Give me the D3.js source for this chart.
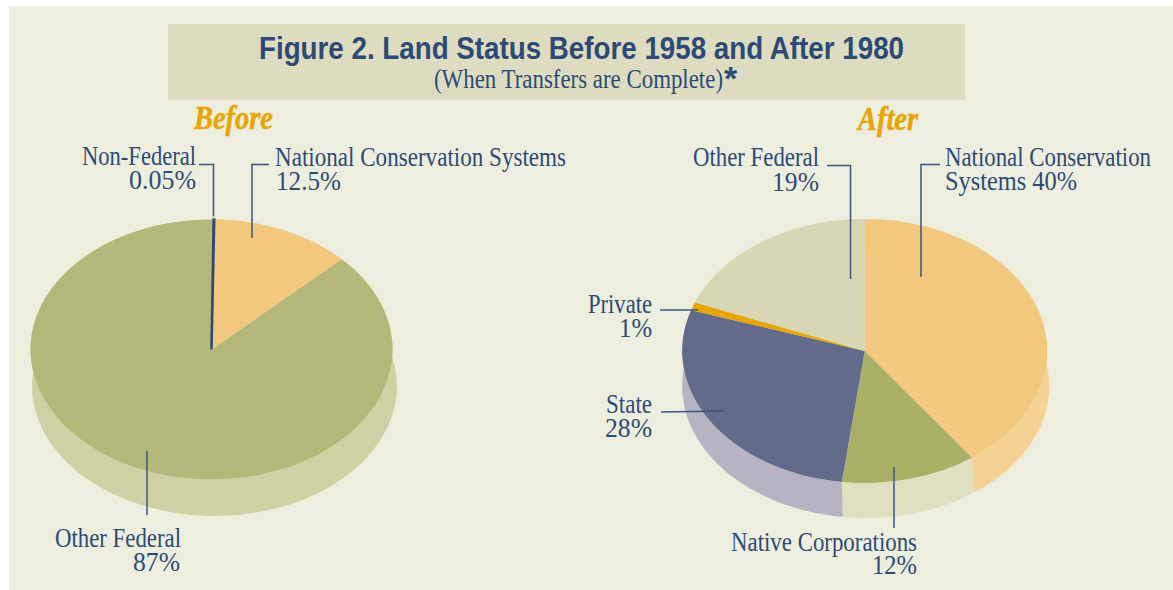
<!DOCTYPE html>
<html>
<head>
<meta charset="UTF-8">
<title>Land Status</title>
<style>
body { margin: 0; background: #fff; }
svg { display: block; }
.lbl { font-family: "Liberation Serif", serif; font-size: 27px; fill: #2c4a75; }
.leader { fill: none; stroke: #3a5680; stroke-width: 1.5px; }
</style>
</head>
<body>
<script src="https://cdn.jsdelivr.net/npm/d3@7"></script>
<script>

// values
var beforeCats = ["Non-Federal", "National Conservation Systems", "Other Federal"];
var beforeVals = [0.05, 12.5, 87];
var beforeTop = ["#2c4a75", "#f2c87f", "#b3b878"];
var beforeSide = ["#cfd1a4", "#cfd1a4", "#cfd1a4"];

var afterCats = ["National Conservation Systems", "Native Corporations", "State", "Private", "Other Federal"];
var afterVals = [40, 12, 28, 1, 19];
var afterTop = ["#f2c87f", "#aaaf68", "#636b8a", "#e6a500", "#d7d8b3"];
var afterSide = ["#f4d294", "#dfdfc2", "#b7b3c3", "#b7b3c3", "#d7d8b3"];

var titleText = "Figure 2. Land Status Before 1958 and After 1980";
var subText = "(When Transfers are Complete)";

var width = 1173, height = 590;

var svg = d3.select("body").append("svg")
    .attr("width", width)
    .attr("height", height);

svg.append("rect")
    .attr("x", 9).attr("y", 6)
    .attr("width", width - 9).attr("height", 584)
    .attr("fill", "#eeeedf");

svg.append("rect")
    .attr("x", 168).attr("y", 24)
    .attr("width", 797).attr("height", 76)
    .attr("fill", "#dddcc0");

svg.append("text")
    .attr("x", 259).attr("y", 59)
    .attr("textLength", 645)
    .attr("lengthAdjust", "spacingAndGlyphs")
    .style("font-family", "'Liberation Sans Narrow', 'Liberation Sans', sans-serif")
    .style("font-weight", "bold")
    .style("font-size", "32px")
    .style("fill", "#2c4a75")
    .text(titleText);

svg.append("text")
    .attr("x", 434).attr("y", 88)
    .attr("textLength", 289)
    .attr("lengthAdjust", "spacingAndGlyphs")
    .style("font-family", "'Liberation Serif', serif")
    .style("font-size", "27px")
    .style("fill", "#2c4a75")
    .text(subText);

svg.append("text")
    .attr("x", 724).attr("y", 90)
    .style("font-family", "'Liberation Sans', sans-serif")
    .style("font-weight", "bold")
    .style("font-size", "34px")
    .style("fill", "#2c4a75")
    .text("*");

function heading(s, x, y, w) {
  svg.append("text")
      .attr("x", x).attr("y", y)
      .attr("textLength", w)
      .attr("lengthAdjust", "spacingAndGlyphs")
      .style("font-family", "'Liberation Serif', serif")
      .style("font-weight", "bold")
      .style("font-style", "italic")
      .style("font-size", "33px")
      .style("fill", "#e6a500")
      .style("stroke", "#e6a500")
      .style("stroke-width", "0.5px")
      .text(s);
}
heading("Before", 194, 129, 79);
heading("After", 858, 130, 60);

var pie = d3.pie().sort(null).value(function(d) { return d; });
var arc = d3.arc().innerRadius(0);
var line = d3.line();

// top face of a pie, a circle pie squashed to an ellipse
function face(arcs, colors, e) {
  var g = svg.append("g")
      .attr("transform", "translate(" + e.cx + "," + e.cy + ") scale(1," + (e.ry / e.rx) + ")");
  g.selectAll("path")
      .data(arcs)
    .enter().append("path")
      .attr("d", function(d) { return arc.outerRadius(e.rx)(d); })
      .attr("fill", function(d, i) { return colors[i]; });
  return g;
}

function onEllipse(e, a) {
  return [e.cx + e.rx * Math.sin(a), e.cy - e.ry * Math.cos(a)];
}

// side wall of a pie, the band between the top ellipse and the lower one
function wall(arcs, colors, top, low) {
  svg.append("g").selectAll("path")
      .data(arcs)
    .enter().append("path")
      .attr("fill", function(d, i) { return colors[i]; })
      .attr("d", function(d) {
        var steps = d3.range(0, 61).map(function(k) {
          return d.startAngle + (d.endAngle - d.startAngle) * k / 60;
        });
        var upper = steps.map(function(a) { return onEllipse(top, a); });
        var lower = steps.map(function(a) { return onEllipse(low, a); }).reverse();
        return line(upper.concat(lower)) + "Z";
      });
}

var beforeEll = {cx: 211.5, cy: 349.5, rx: 181, ry: 130};
var beforeLow = {cx: 214.5, cy: 386, rx: 182.5, ry: 130};
var afterEll = {cx: 864.7, cy: 351, rx: 182.5, ry: 132};
var afterLow = {cx: 865.7, cy: 386, rx: 183.5, ry: 132};

// the before pie sits a touch clockwise of straight up
var beforeArcs = d3.pie().sort(null).value(function(d) { return d; })
    .startAngle(0.012).endAngle(2 * Math.PI + 0.012)(beforeVals);
var afterArcs = pie(afterVals);

wall(beforeArcs, beforeSide, beforeEll, beforeLow);
var beforeG = face(beforeArcs, beforeTop, beforeEll);
// the 0.05% slice is thinner than a pixel, the stroke keeps it visible
beforeG.select("path")
    .attr("stroke", beforeTop[0])
    .attr("stroke-width", 2.5)
    .attr("vector-effect", "non-scaling-stroke")
    .raise();

wall(afterArcs, afterSide, afterEll, afterLow);
face(afterArcs, afterTop, afterEll);

var leaders = [
  [[199, 164.5], [213.5, 164.5], [213.5, 216.5]],
  [[269, 164.5], [252, 164.5], [252, 238]],
  [[147, 451], [147, 515]],
  [[827, 165.5], [850.5, 165.5], [850.5, 279]],
  [[940, 164.5], [921, 164.5], [921, 277]],
  [[660, 310], [698, 310]],
  [[661, 412], [724, 411]],
  [[894, 467], [894, 528]]
];

svg.selectAll("path.leader")
    .data(leaders)
  .enter().append("path")
    .attr("class", "leader")
    .attr("d", line);

// text, left edge, baseline, width of each label line
var labels = [
  [beforeCats[0], 82, 165, 114],
  [beforeVals[0] + "%", 129, 189, 67],
  [beforeCats[1], 275, 166, 291],
  [beforeVals[1] + "%", 276, 190, 65],
  [beforeCats[2], 55, 547, 126],
  [beforeVals[2] + "%", 133, 571, 47],
  [afterCats[4], 693, 166, 126],
  [afterVals[4] + "%", 772, 191, 47],
  ["National Conservation", 945, 166, 206],
  ["Systems " + afterVals[0] + "%", 945, 190, 132],
  [afterCats[3], 588, 313, 64],
  [afterVals[3] + "%", 619, 337, 33],
  [afterCats[2], 606, 413, 46],
  [afterVals[2] + "%", 605, 437, 47],
  [afterCats[1], 731, 551, 186],
  [afterVals[1] + "%", 872, 574, 45]
];

svg.selectAll("text.lbl")
    .data(labels)
  .enter().append("text")
    .attr("class", "lbl")
    .attr("x", function(d) { return d[1]; })
    .attr("y", function(d) { return d[2]; })
    .attr("textLength", function(d) { return d[3]; })
    .attr("lengthAdjust", "spacingAndGlyphs")
    .text(function(d) { return d[0]; });

</script>
</body>
</html>
